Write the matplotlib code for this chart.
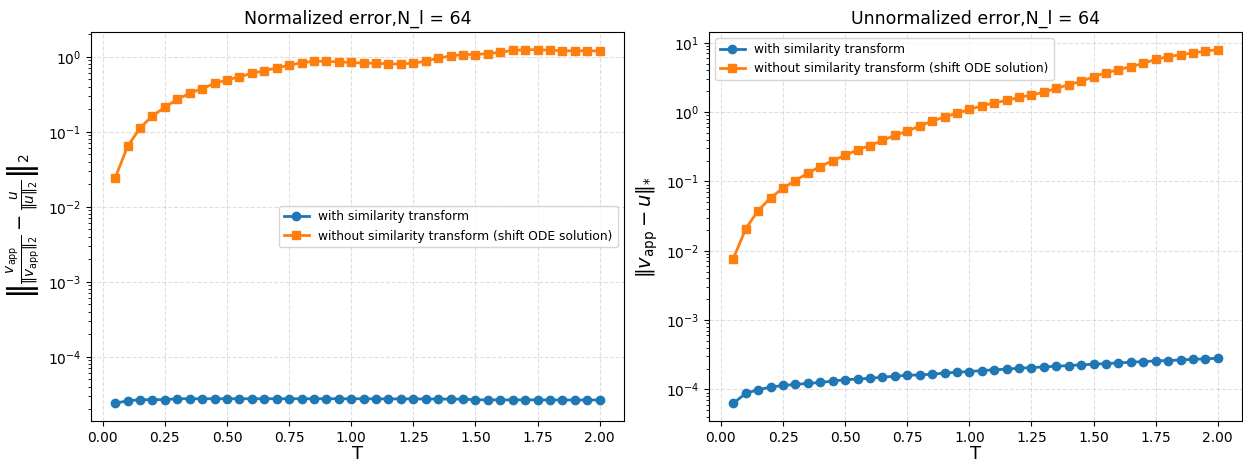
import numpy as np
import matplotlib
matplotlib.use("Agg")
import matplotlib.pyplot as plt

# Time points
T = [round(0.05 * k, 2) for k in range(1, 41)]

# Normalized error
norm_with = [2.39e-5, 2.59e-5, 2.67e-5, 2.67e-5, 2.68e-5, 2.75e-5, 2.75e-5, 2.75e-5,
             2.75e-5, 2.75e-5, 2.75e-5, 2.75e-5, 2.75e-5, 2.75e-5, 2.75e-5, 2.75e-5,
             2.75e-5, 2.75e-5, 2.75e-5, 2.75e-5, 2.75e-5, 2.74e-5, 2.74e-5, 2.74e-5,
             2.74e-5, 2.73e-5, 2.73e-5, 2.72e-5, 2.72e-5, 2.67e-5, 2.66e-5, 2.66e-5,
             2.66e-5, 2.66e-5, 2.66e-5, 2.65e-5, 2.65e-5, 2.65e-5, 2.65e-5, 2.65e-5]
norm_without = [0.0243, 0.064, 0.112, 0.163, 0.212, 0.27, 0.326, 0.376, 0.44, 0.49,
                0.54, 0.60, 0.65, 0.71, 0.77, 0.83, 0.87, 0.87, 0.85, 0.84,
                0.82, 0.82, 0.80, 0.80, 0.82, 0.87, 0.96, 1.02, 1.07, 1.07,
                1.10, 1.15, 1.21, 1.24, 1.24, 1.22, 1.20, 1.20, 1.20, 1.19]

# Unnormalized error
unnorm_with = [6.3e-5, 8.8e-5, 9.9e-5, 1.08e-4, 1.14e-4, 1.18e-4, 1.22e-4, 1.26e-4,
               1.32e-4, 1.38e-4, 1.41e-4, 1.45e-4, 1.50e-4, 1.55e-4, 1.60e-4, 1.62e-4,
               1.66e-4, 1.72e-4, 1.77e-4, 1.81e-4, 1.87e-4, 1.92e-4, 1.96e-4, 2.02e-4,
               2.07e-4, 2.11e-4, 2.16e-4, 2.21e-4, 2.26e-4, 2.31e-4, 2.36e-4, 2.41e-4,
               2.47e-4, 2.52e-4, 2.58e-4, 2.61e-4, 2.66e-4, 2.72e-4, 2.75e-4, 2.82e-4]
unnorm_without = [0.0077, 0.0208, 0.038, 0.058, 0.080, 0.103, 0.132, 0.164, 0.20, 0.237,
                  0.286, 0.327, 0.39, 0.46, 0.53, 0.63, 0.74, 0.85, 0.96, 1.09,
                  1.23, 1.36, 1.47, 1.63, 1.76, 1.94, 2.19, 2.48, 2.77, 3.23,
                  3.69, 4.08, 4.51, 5.03, 5.75, 6.29, 6.71, 7.10, 7.59, 7.93]

label_with = "with similarity transform"
label_without = "without similarity transform (shift ODE solution)"

fig, (ax1, ax2) = plt.subplots(1, 2, figsize=(12.43, 4.62), dpi=100)
fig.subplots_adjust(left=0.0732, right=0.9992, bottom=0.0887, top=0.9307, wspace=0.16)

# Left: normalized error
ax1.semilogy(T, norm_with, "-o", linewidth=2, markersize=6, label=label_with)
ax1.semilogy(T, norm_without, "-s", linewidth=2, markersize=6, label=label_without)
ax1.set_title("Normalized error,N_l = 64", fontsize=12.5)
ax1.set_xlabel("T", fontsize=13, labelpad=0)
ax1.set_ylabel(r"$\left\|\frac{v_{\rm app}}{\|v_{\rm app}\|_2}-\frac{u}{\|u\|_2}\right\|_2$",
               fontsize=14)
ax1.grid(True, which="major", linestyle="--", alpha=0.4)
ax1.legend(loc="center right", fontsize=8.8)

# Right: unnormalized error
ax2.semilogy(T, unnorm_with, "-o", linewidth=2, markersize=6, label=label_with)
ax2.semilogy(T, unnorm_without, "-s", linewidth=2, markersize=6, label=label_without)
ax2.set_title("Unnormalized error,N_l = 64", fontsize=12.5)
ax2.set_xlabel("T", fontsize=13, labelpad=0)
ax2.set_ylabel(r"$\|v_{\rm app}-u\|_{*}$", fontsize=14)
ax2.grid(True, which="major", linestyle="--", alpha=0.4)
ax2.legend(loc="upper left", fontsize=8.8)

plt.savefig("out.png", dpi=100)
